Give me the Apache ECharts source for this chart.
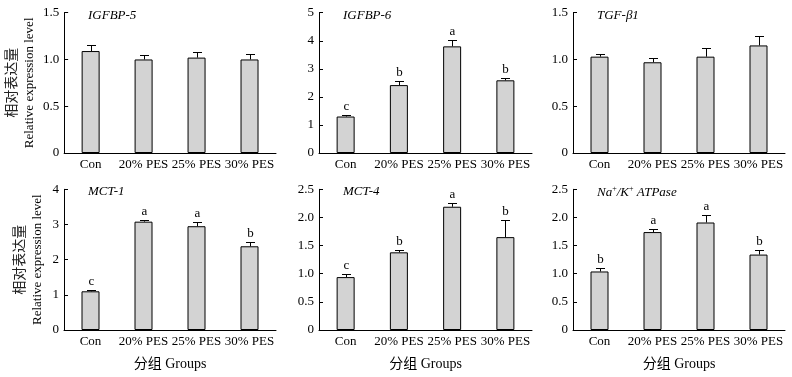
<!DOCTYPE html>
<html>
<head>
<meta charset="utf-8">
<script src="https://cdn.jsdelivr.net/npm/echarts@6/dist/echarts.min.js"></script>
<style>
  html, body { margin: 0; padding: 0; background: #fff; }
  #chart { width: 792px; height: 377px; }
</style>
</head>
<body>
<div id="chart"></div>
<script>
// groups on every x axis
var groups = ['Con', '20% PES', '25% PES', '30% PES'];

// values (mean, upper error, significance letters)
var igfbp5 = [1.09, 1.00, 1.02, 1.00];
var igfbp5Err = [0.06, 0.05, 0.06, 0.06];
var igfbp5Sig = ['', '', '', ''];

var igfbp6 = [1.30, 2.42, 3.80, 2.59];
var igfbp6Err = [0.04, 0.13, 0.21, 0.09];
var igfbp6Sig = ['c', 'b', 'a', 'b'];

var tgfb1 = [1.03, 0.97, 1.03, 1.15];
var tgfb1Err = [0.03, 0.05, 0.09, 0.10];
var tgfb1Sig = ['', '', '', ''];

var mct1 = [1.10, 3.08, 2.95, 2.38];
var mct1Err = [0.05, 0.06, 0.12, 0.12];
var mct1Sig = ['c', 'a', 'a', 'b'];

var mct4 = [0.94, 1.38, 2.19, 1.65];
var mct4Err = [0.05, 0.04, 0.06, 0.31];
var mct4Sig = ['c', 'b', 'a', 'b'];

var nakAtp = [1.04, 1.74, 1.91, 1.34];
var nakAtpErr = [0.06, 0.06, 0.14, 0.08];
var nakAtpSig = ['b', 'a', 'a', 'b'];

// y axis ranges
var yMax = [1.5, 5, 1.5, 4, 2.5, 2.5];
var yStep = [0.5, 1, 0.5, 1, 0.5, 0.5];

var panels = [
  { name: '{i|IGFBP-5}', v: igfbp5, e: igfbp5Err, s: igfbp5Sig },
  { name: '{i|IGFBP-6}', v: igfbp6, e: igfbp6Err, s: igfbp6Sig },
  { name: '{i|TGF-β1}', v: tgfb1, e: tgfb1Err, s: tgfb1Sig },
  { name: '{i|MCT-1}', v: mct1, e: mct1Err, s: mct1Sig },
  { name: '{i|MCT-4}', v: mct4, e: mct4Err, s: mct4Sig },
  { name: '{i|Na}{s|+}{i|/K}{s|+}{i| ATPase}', v: nakAtp, e: nakAtpErr, s: nakAtpSig }
];

var lefts = [64, 319, 573];
var widths = [212, 213, 212];
var tops = [12.7, 189.3];
var heights = [140.3, 140.7];

var serif = 'Liberation Serif';
var grids = [], xAxes = [], yAxes = [], series = [], titles = [];

panels.forEach(function (p, k) {
  var col = k % 3, row = Math.floor(k / 3);
  grids.push({ left: lefts[col], top: tops[row], width: widths[col], height: heights[row] });

  xAxes.push({
    type: 'category', gridIndex: k, data: groups,
    axisLine: { lineStyle: { color: '#000', width: 1 } },
    axisTick: { inside: true, length: 4, lineStyle: { color: '#000' } },
    axisLabel: { color: '#000', fontFamily: serif, fontSize: 13, margin: 5, interval: 0 },
    name: row === 1 ? '分组 Groups' : '',
    nameLocation: 'middle', nameGap: 27,
    nameTextStyle: { color: '#000', fontFamily: serif + ', Noto Sans CJK SC', fontSize: 14 }
  });

  var dec = yStep[k] < 1;
  yAxes.push({
    type: 'value', gridIndex: k, min: 0, max: yMax[k], interval: yStep[k],
    splitLine: { show: false },
    axisLine: { show: true, lineStyle: { color: '#000', width: 1 } },
    axisTick: { show: true, inside: true, length: 4, lineStyle: { color: '#000' } },
    axisLabel: {
      color: '#000', fontFamily: serif, fontSize: 13, margin: 5,
      formatter: function (v) { return v === 0 ? '0' : (dec ? v.toFixed(1) : String(v)); }
    },
    name: col === 0 ? '{c|相对表达量}\n{e|Relative expression level}' : '',
    nameLocation: 'middle', nameGap: 17, nameRotate: 90,
    nameTextStyle: {
      color: '#000', lineHeight: 19,
      rich: {
        c: { fontFamily: 'Noto Sans CJK SC', fontSize: 14, color: '#222', lineHeight: 19 },
        e: { fontFamily: serif, fontSize: 13, color: '#000', lineHeight: 19 }
      }
    }
  });

  titles.push({
    text: p.name, left: lefts[col] + 19, top: tops[row] - 9,
    textStyle: {
      fontWeight: 'normal',
      rich: {
        i: { fontFamily: serif, fontStyle: 'italic', fontWeight: 'normal', fontSize: 13, color: '#000' },
        s: { fontFamily: serif, fontWeight: 'normal', fontSize: 8, color: '#000', verticalAlign: 'top', padding: [0, 0, 6, 0] }
      }
    }
  });

  series.push({
    type: 'bar', xAxisIndex: k, yAxisIndex: k, data: p.v, barWidth: 18,
    itemStyle: { color: '#d3d3d3', borderColor: '#000', borderWidth: 1 },
    silent: true
  });

  series.push({
    type: 'custom', xAxisIndex: k, yAxisIndex: k, z: 5,
    data: p.v.map(function (v, i) { return [i, v, v + p.e[i]]; }),
    renderItem: function (params, api) {
      var i = params.dataIndex;
      var base = api.coord([api.value(0), api.value(1)]);
      var top = api.coord([api.value(0), api.value(2)]);
      var x = Math.round(base[0]) + 0.5;
      var yt = Math.round(top[1]) + 0.5;
      return {
        type: 'group',
        children: [
          { type: 'line', shape: { x1: x, y1: base[1], x2: x, y2: yt }, style: { stroke: '#000', lineWidth: 1 } },
          { type: 'line', shape: { x1: x - 4.5, y1: yt, x2: x + 4.5, y2: yt }, style: { stroke: '#000', lineWidth: 1 } },
          { type: 'text', x: x, y: yt - 2,
            style: { text: p.s[i], fill: '#000', fontFamily: serif, fontSize: 13, align: 'center', verticalAlign: 'bottom' } }
        ]
      };
    }
  });
});

var chart = echarts.init(document.getElementById('chart'), null, { renderer: 'canvas' });
chart.setOption({
  animation: false,
  title: titles,
  grid: grids,
  xAxis: xAxes,
  yAxis: yAxes,
  series: series
});
</script>
</body>
</html>
